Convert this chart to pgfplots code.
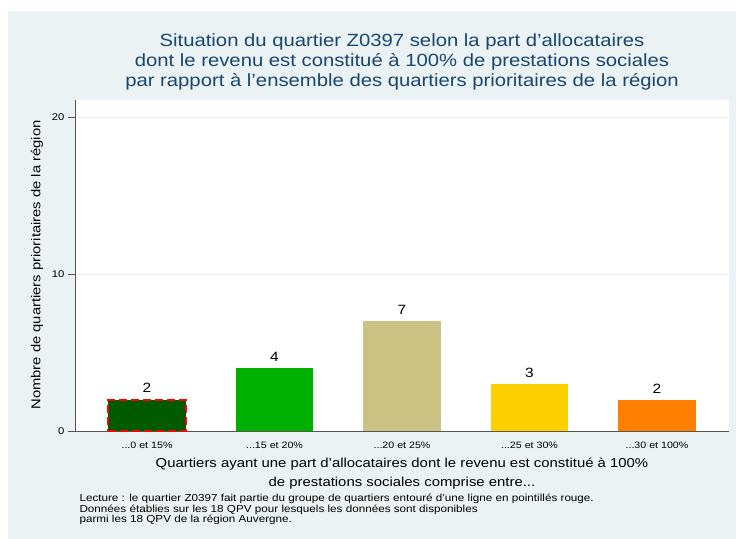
\documentclass[border=0pt]{standalone}
\usepackage{pgfplots}
\pgfplotsset{compat=1.18}
\usepackage{fontspec}
\setmainfont{Liberation Sans}[FakeStretch=1.15]
\definecolor{bgcol}{RGB}{234,242,243}
\definecolor{titcol}{RGB}{26,71,111}
\definecolor{cA}{RGB}{0,90,0}
\definecolor{cB}{RGB}{0,176,0}
\definecolor{cC}{RGB}{204,194,132}
\definecolor{cD}{RGB}{255,208,0}
\definecolor{cE}{RGB}{255,128,0}
\definecolor{axcol}{RGB}{85,85,85}
\newcommand\ddd{...}
\begin{document}
\begin{tikzpicture}[x=1bp,y=1bp]
\useasboundingbox (0,0) rectangle (736,539);
\fill[white] (0,0) rectangle (736,539);
\fill[bgcol] (8,0) rectangle (736,528);
\begin{axis}[
  at={(75bp,108bp)}, anchor=south west,
  scale only axis, width=654bp, height=331bp,
  axis background/.style={fill=white},
  xmin=-0.565, xmax=4.565, ymin=0, ymax=21.1,
  axis x line*=bottom, axis y line*=left,
  axis line style={axcol, line width=0.8pt, -},
  xtick={0,1,2,3,4},
  xticklabels={\ddd{}0 et 15\%,\ddd{}15 et 20\%,\ddd{}20 et 25\%,\ddd{}25 et 30\%,\ddd{}30 et 100\%},
  x tick label style={font=\fontsize{9.3}{11}\selectfont, yshift=-1bp},
  major x tick style={draw=none},
  ytick={0,10,20},
  y tick label style={font=\fontsize{9.8}{12}\selectfont},
  /pgf/number format/assume math mode=true,
  major tick length=7bp,
  y tick style={axcol, line width=0.8pt},
  tick align=outside,
  ymajorgrids, grid style={bgcol, line width=0.8pt},
  ybar, bar width=0.61, bar shift=0pt,
  nodes near coords,
  every node near coord/.append style={font=\fontsize{13.5}{16}\selectfont, black, yshift=3bp},
  clip=false,
]
\addplot[fill=cA, draw=red, line width=2pt, dash pattern=on 8bp off 4bp] coordinates {(0,2)};
\addplot[fill=cB, draw=none] coordinates {(1,4)};
\addplot[fill=cC, draw=none] coordinates {(2,7)};
\addplot[fill=cD, draw=none] coordinates {(3,3)};
\addplot[fill=cE, draw=none] coordinates {(4,2)};
\end{axis}
\node[font=\fontsize{17.7}{20}\selectfont, text=titcol, align=center] at (402,477) {Situation du quartier Z0397 selon la part d’allocataires\\dont le revenu est constitué à 100\% de prestations sociales\\par rapport à l’ensemble des quartiers prioritaires de la région};
\node[font=\fontsize{12.9}{15}\selectfont, rotate=90] at (37,274) {Nombre de quartiers prioritaires de la région};
\node[font=\fontsize{13}{19}\selectfont, align=center] at (402,65.5) {Quartiers ayant une part d’allocataires dont le revenu est constitué à 100\%\\de prestations sociales comprise entre...};
\node[font=\fontsize{10.2}{10.5}\selectfont, align=left, anchor=north west] at (76,48) {Lecture : le quartier Z0397 fait partie du groupe de quartiers entouré d’une ligne en pointillés rouge.\\Données établies sur les 18 QPV pour lesquels les données sont disponibles\\parmi les 18 QPV de la région Auvergne.};
\end{tikzpicture}
\end{document}
